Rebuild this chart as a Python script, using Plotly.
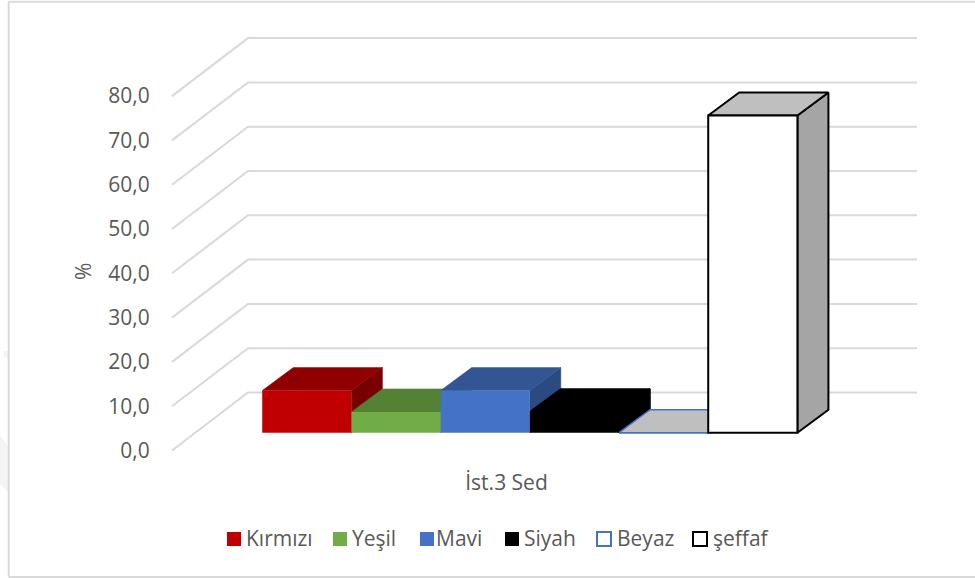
import plotly.graph_objects as go

# ---- data ----
series_names = ["Kırmızı", "Yeşil", "Mavi", "Siyah", "Beyaz", "şeffaf"]
series_values = [9.5, 4.7, 9.5, 4.7, 0.0, 71.6]
category = "İst.3 Sed"
y_ticks = [0, 10, 20, 30, 40, 50, 60, 70, 80]

# ---- styles ----
front_colors = ["#c00000", "#70ad47", "#4472c4", "#000000", "#ffffff", "#ffffff"]
top_colors = ["#900000", "#548235", "#335593", "#000000", "#bfbfbf", "#bfbfbf"]
side_colors = ["#770000", "#466d2c", "#2b4a82", "#000000", "#a5a5a5", "#a5a5a5"]
edge_colors = [None, None, None, None, "#4472c4", "#000000"]
edge_widths = [0.5, 0.5, 0.5, 1.5, 1.5, 2]

W, H = 975, 578
TEXT = "#595959"
GRID = "#d9d9d9"

# plot geometry in pixels -> axis scales
X0_PX, UNIT_PX = 172.0, 89.2      # front-left floor corner, one bar width
Y0_PX, VAL_PX = 450.5, 4.43       # front floor level, pixels per percent
FLOOR_DX, FLOOR_DY = 76 / UNIT_PX, 58 / VAL_PX      # full floor depth
BAR_DX, BAR_DY = 31 / UNIT_PX, 23 / VAL_PX          # depth of a bar
BAR_FRONT = 17.8 / 58                               # where the bars stand on the floor
GAP = 0.75
N_UNITS = len(series_names) + 2 * GAP

x_range = [-X0_PX / UNIT_PX, (W - X0_PX) / UNIT_PX]
y_range = [(Y0_PX - H) / VAL_PX, Y0_PX / VAL_PX]

fig = go.Figure()

# walls: gridlines run along the floor side, then along the back wall
gx, gy = [], []
for v in y_ticks:
    gx += [0, FLOOR_DX, FLOOR_DX + N_UNITS, None]
    gy += [v, v + FLOOR_DY, v + FLOOR_DY, None]
fig.add_trace(go.Scatter(x=gx, y=gy, mode="lines", line=dict(color=GRID, width=2),
                         hoverinfo="skip", showlegend=False))

base_x = GAP + BAR_FRONT * FLOOR_DX
base_y = BAR_FRONT * FLOOR_DY


def face(xs, ys, fill, lc, lw):
    fig.add_trace(go.Scatter(
        x=xs, y=ys, mode="lines", fill="toself", fillcolor=fill,
        line=dict(color=lc or fill, width=lw), hoverinfo="skip", showlegend=False))


# top and side faces, left to right so that each bar hides the one before it
for i, v in enumerate(series_values):
    x0, x1 = base_x + i, base_x + i + 1
    t = base_y + v
    lc, lw = edge_colors[i], edge_widths[i]
    face([x1, x1 + BAR_DX, x1 + BAR_DX, x1, x1],
         [t, t + BAR_DY, base_y + BAR_DY, base_y, t], side_colors[i], lc, lw)
    face([x0, x0 + BAR_DX, x1 + BAR_DX, x1, x0],
         [t, t + BAR_DY, t + BAR_DY, t, t], top_colors[i], lc, lw)

# front faces, on an overlaying pair of axes so they sit above the depth faces
for i, (name, v) in enumerate(zip(series_names, series_values)):
    fig.add_trace(go.Bar(
        x=[base_x + i + 0.5], y=[v], base=[base_y], width=[1], name=name,
        xaxis="x2", yaxis="y2", showlegend=False,
        marker=dict(color=front_colors[i],
                    line=dict(color=edge_colors[i] or front_colors[i],
                              width=edge_widths[i] if edge_colors[i] else 0)),
        hovertemplate=name + ": %{y:.1f}<extra></extra>"))


def px_path(points):
    return "M" + "L".join(f"{px / W:.5f},{1 - py / H:.5f}" for px, py in points) + "Z"


layout_shapes = [
    # faint watermark remains at the left edge
    dict(type="path", xref="paper", yref="paper", layer="below",
         path=px_path([(0, 435), (8, 446), (8, 492), (0, 484)]),
         fillcolor="#f4f4f4", line=dict(width=0)),
    dict(type="path", xref="paper", yref="paper", layer="below",
         path=px_path([(3, 351), (8, 351), (8, 358), (5, 358)]),
         fillcolor="#f4f4f4", line=dict(width=0)),
    # chart frame
    dict(type="line", xref="paper", yref="paper", x0=8.7 / W, x1=1, y0=1 - 1.7 / H, y1=1 - 1.7 / H,
         line=dict(color=GRID, width=2)),
    dict(type="line", xref="paper", yref="paper", x0=8.7 / W, x1=1, y0=1 - 577 / H, y1=1 - 577 / H,
         line=dict(color=GRID, width=2)),
    dict(type="line", xref="paper", yref="paper", x0=8.7 / W, x1=8.7 / W, y0=1 - 1.7 / H, y1=1 - 577 / H,
         line=dict(color=GRID, width=2)),
]

# legend row
legend_swatch_px = [227, 333, 420, 505, 597, 693]
legend_text_px = [246, 352, 436, 524, 617, 713]
LEG_Y = 539
annotations = []
for i, name in enumerate(series_names):
    s = legend_swatch_px[i]
    layout_shapes.append(dict(
        type="rect", xref="paper", yref="paper",
        x0=s / W, x1=(s + 14) / W, y0=1 - (LEG_Y - 7) / H, y1=1 - (LEG_Y + 7) / H,
        fillcolor=front_colors[i],
        line=dict(color=edge_colors[i] or front_colors[i], width=2 if edge_colors[i] else 0)))
    annotations.append(dict(
        text=name, xref="paper", yref="paper", x=legend_text_px[i] / W, y=1 - (LEG_Y - 1) / H,
        xanchor="left", yanchor="middle", showarrow=False, xshift=-2,
        font=dict(family="Open Sans", size=21, color=TEXT)))

annotations.append(dict(
    text="%", xref="paper", yref="paper", x=83 / W, y=1 - 272 / H, textangle=-90,
    xanchor="center", yanchor="middle",
    showarrow=False, font=dict(family="Open Sans", size=21, color=TEXT)))

fig.update_layout(
    width=W, height=H, margin=dict(l=0, r=0, t=0, b=0),
    paper_bgcolor="white", plot_bgcolor="rgba(0,0,0,0)",
    separators=",.", showlegend=False, barmode="overlay",
    shapes=layout_shapes, annotations=annotations,
    xaxis=dict(range=x_range, domain=[0, 1], anchor="free", position=1 - Y0_PX / H,
               tickvals=[N_UNITS / 2], ticktext=[category], showgrid=False, zeroline=False,
               showline=False, ticks="outside", ticklen=13, tickcolor="rgba(0,0,0,0)",
               tickfont=dict(family="Open Sans", size=21, color=TEXT)),
    yaxis=dict(range=y_range, domain=[0, 1], anchor="free", position=X0_PX / W,
               tickvals=y_ticks, tickformat=".1f", showgrid=False, zeroline=False,
               showline=False, ticks="outside", ticklen=18, tickcolor="rgba(0,0,0,0)",
               tickfont=dict(family="Open Sans", size=21, color=TEXT)),
    xaxis2=dict(range=x_range, overlaying="x", matches="x", visible=False),
    yaxis2=dict(range=y_range, overlaying="y", matches="y", visible=False),
)

fig.write_html("out.html", config=dict(displayModeBar=False),
               post_script="document.body.style.margin='0';document.body.style.overflow='hidden';")
